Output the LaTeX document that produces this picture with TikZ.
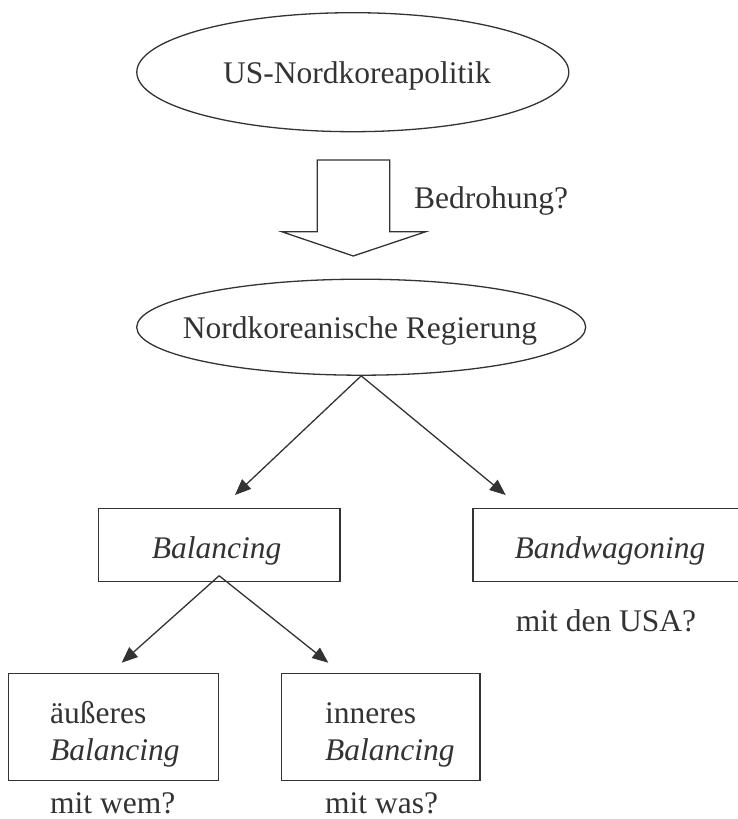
\documentclass[tikz,border=0pt]{standalone}
\usepackage{fontspec}
\setmainfont{Liberation Serif}
\usetikzlibrary{shapes.geometric,arrows.meta}

\definecolor{ink}{HTML}{333333}

\tikzset{
  line/.style={draw=ink, line width=1.3pt},
  oval/.style={line, ellipse, inner sep=0pt},
  frame/.style={line, rectangle, inner sep=0pt},
  lbl/.style={inner sep=0pt, anchor=base west, text=ink,
              font=\fontsize{31.5}{37}\selectfont},
  lblc/.style={lbl, anchor=base},
  link/.style={line, -{Triangle[length=16pt,width=13pt]}},
}

\begin{document}
\begin{tikzpicture}[x=1pt,y=-1pt]
  \useasboundingbox (0,0) rectangle (738,819);
  \clip (0,0) rectangle (738,819);

  % top: policy ellipse
  \node[oval, minimum width=432pt, minimum height=119pt] (pol) at (352.8,72.2) {};
  \node[lbl] (poltext) at (223,83) {US-Nordkoreapolitik};

  % hollow block arrow
  \draw[line, line join=miter]
    (317.3,160) -- (389.7,160) -- (389.7,231.7) -- (425.7,231.7)
    -- (353.3,256) -- (281.7,231.7) -- (317.3,231.7) -- cycle;
  \node[lbl] (threat) at (414,208) {Bedrohung?};

  % government ellipse
  \node[oval, minimum width=449pt, minimum height=96pt] (gov) at (361.2,327.2) {};
  \node[lbl] (govtext) at (182.7,338) {Nordkoreanische Regierung};

  % second level boxes
  \node[frame, minimum width=241.7pt, minimum height=73.4pt] (bal) at (219.15,545) {};
  \node[lblc] (baltext) at (216.7,558) {\itshape Balancing};

  \node[frame, minimum width=287pt, minimum height=73.4pt] (bw) at (616.5,545) {};
  \node[lblc] (bwtext) at (610,558) {\itshape Bandwagoning};
  \node[lbl] (usa) at (515.7,631.7) {mit den USA?};

  \coordinate (tipA) at (235,495);
  \coordinate (tipB) at (505.7,495);
  \draw[link] (gov.south) -- (tipA);
  \draw[link] (gov.south) -- (tipB);

  % third level boxes
  \node[frame, minimum width=210pt, minimum height=107.4pt] (ext) at (113.3,727) {};
  \node[lbl] (ext1) at (50,723) {äußeres};
  \node[lbl] (ext2) at (50,760) {\itshape Balancing};
  \node[lbl] (extq) at (50,813) {mit wem?};

  \node[frame, minimum width=198.3pt, minimum height=107.4pt] (int) at (380.85,727) {};
  \node[lbl] (int1) at (325,723) {inneres};
  \node[lbl] (int2) at (325,760) {\itshape Balancing};
  \node[lbl] (intq) at (325,813) {mit was?};

  \coordinate (balapex) at ([yshift=6.6pt]bal.south);
  \coordinate (tipC) at (121.7,662.7);
  \coordinate (tipD) at (328.3,662.7);
  \draw[link] (balapex) -- (tipC);
  \draw[link] (balapex) -- (tipD);
\end{tikzpicture}
\end{document}
